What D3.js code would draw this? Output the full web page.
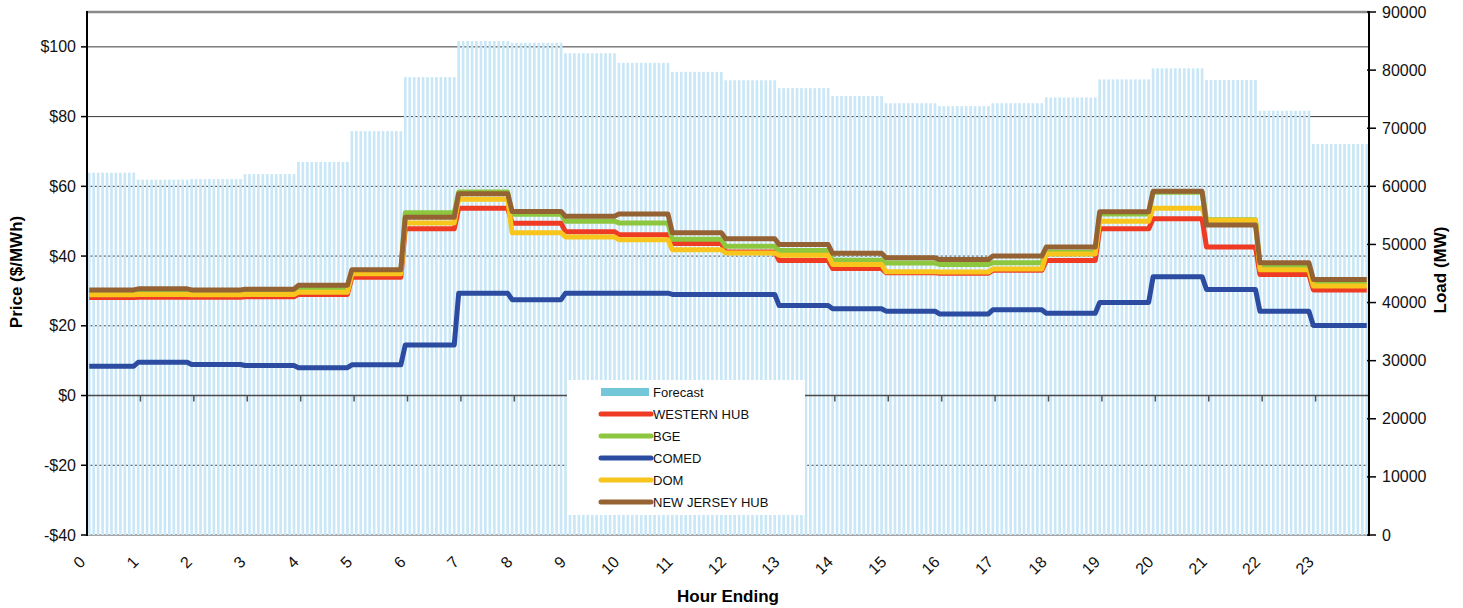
<!DOCTYPE html>
<html><head><meta charset="utf-8">
<script src="https://cdn.jsdelivr.net/npm/d3@7"></script>
<style>
body{margin:0;background:#fff;}
text{font-family:"Liberation Sans",Arial,Helvetica,sans-serif;}
</style>
</head><body>
<svg id="chart" width="1463" height="608"></svg>
<script>
// ---- data (hourly) ----
const hourLabels = ["0","1","2","3","4","5","6","7","8","9","10","11","12","13","14","15","16","17","18","19","20","21","22","23"];
const loadForecast = [62350,61150,61250,62100,64200,69500,78800,85000,84700,82900,81250,79700,78250,76900,75550,74300,73800,74300,75300,78400,80300,78300,73000,67300];
const westernHub = [28.1,28.2,28.2,28.3,29.0,33.9,47.8,53.7,49.4,47.0,46.1,43.6,41.2,38.7,36.4,35.2,35.1,35.9,38.7,47.8,50.7,42.6,34.7,30.3];
const bge        = [29.4,29.5,29.4,29.5,30.8,35.5,52.4,58.4,52.0,50.0,49.5,44.8,42.8,41.6,38.8,38.0,37.6,38.1,41.1,52.1,58.3,50.4,37.3,32.3];
const comed      = [8.4,9.55,8.9,8.6,8.0,8.8,14.5,29.35,27.5,29.35,29.35,29.0,29.0,25.8,24.9,24.2,23.4,24.6,23.6,26.7,34.1,30.4,24.2,20.1];
const dom        = [28.9,29.0,28.9,29.0,29.6,34.9,49.5,56.3,46.7,45.5,44.7,41.8,40.9,40.2,37.6,35.5,35.4,36.3,40.6,50.0,53.7,50.3,36.1,31.4];
const newJersey  = [30.3,30.6,30.3,30.5,31.6,36.1,51.1,57.9,52.8,51.4,52.1,46.7,45.0,43.3,40.8,39.5,39.0,40.0,42.6,52.7,58.6,48.9,38.1,33.3];
const priceTicks = [-40,-20,0,20,40,60,80,100];
const loadTicks = [0,10000,20000,30000,40000,50000,60000,70000,80000,90000];
const seriesNames = ["WESTERN HUB","BGE","COMED","DOM","NEW JERSEY HUB"];
const seriesColors = ["#ef3b24","#8dc63f","#2b4ca0","#f8c51c","#956233"];
const seriesData = [westernHub,bge,comed,dom,newJersey];

// 5-minute category axis: 12 intervals per hour (interval-ending)
const slotsPerHour = 12;
const nSlots = 24*slotsPerHour;
const slots = d3.range(nSlots);
const hourOf = i => Math.min(23, Math.floor((i+1)/slotsPerHour));

const L=87, R=1369, T=12, B=535;
const svg = d3.select("#chart");
const x = d3.scaleBand().domain(slots).range([L,R]).paddingInner(0.4).paddingOuter(0.2);
const xc = i => x(i) + x.bandwidth()/2;
const yP = d3.scaleLinear().domain([-40,110]).range([B,T]);
const yL = d3.scaleLinear().domain([0,90000]).range([B,T]);

// gridlines (behind bars)
svg.append("g").selectAll("line").data(priceTicks.filter(v=>v!==0 && v!==-40)).join("line")
  .attr("x1",L).attr("x2",R).attr("y1",d=>yP(d)).attr("y2",d=>yP(d))
  .attr("stroke","#3a3a3a").attr("stroke-width",1);
svg.append("line").attr("x1",L).attr("x2",R).attr("y1",yP(-40)).attr("y2",yP(-40))
  .attr("stroke","#8a8a8a").attr("stroke-width",1.5);

// forecast bars
svg.append("g").selectAll("rect").data(slots).join("rect")
  .attr("x",i=>x(i)).attr("width",x.bandwidth())
  .attr("y",i=>yL(loadForecast[hourOf(i)]))
  .attr("height",i=>B-yL(loadForecast[hourOf(i)]))
  .attr("fill","#c9e7f6");

// top border
svg.append("line").attr("x1",L).attr("x2",R).attr("y1",T).attr("y2",T)
  .attr("stroke","#8a8a8a").attr("stroke-width",2.5);

// zero line with category ticks
svg.append("line").attr("x1",L).attr("x2",R).attr("y1",yP(0)).attr("y2",yP(0))
  .attr("stroke","#4a4a4a").attr("stroke-width",1.5);
const tickSlots = d3.range(1,24).map(h=>h*slotsPerHour);
svg.append("g").selectAll("line").data(tickSlots).join("line")
  .attr("x1",i=>x(i)-x.step()*x.paddingInner()/2).attr("x2",i=>x(i)-x.step()*x.paddingInner()/2)
  .attr("y1",yP(0)).attr("y2",yP(0)+6)
  .attr("stroke","#555").attr("stroke-width",1.5);

// series lines
const line = d3.line().x(d=>d[0]).y(d=>d[1]);
seriesData.forEach((arr,k)=>{
  const pts = slots.map(i=>[xc(i), yP(arr[hourOf(i)])]);
  svg.append("path").attr("d",line(pts)).attr("fill","none")
    .attr("stroke",seriesColors[k]).attr("stroke-width",5)
    .attr("stroke-linejoin","round").attr("stroke-linecap","butt");
});

// left axis
svg.append("line").attr("x1",L).attr("x2",L).attr("y1",T-1).attr("y2",B+1).attr("stroke","#000").attr("stroke-width",2);
const lg = svg.append("g");
lg.selectAll("line").data(priceTicks).join("line")
  .attr("x1",L-6).attr("x2",L).attr("y1",d=>yP(d)).attr("y2",d=>yP(d)).attr("stroke","#000").attr("stroke-width",1.5);
lg.selectAll("text").data(priceTicks).join("text")
  .attr("x",L-11).attr("y",d=>yP(d)).attr("dy","0.35em").attr("text-anchor","end")
  .attr("font-size",16).attr("fill","#111")
  .text(d=> d<0 ? "-$"+Math.abs(d) : "$"+d);

// right axis
svg.append("line").attr("x1",R).attr("x2",R).attr("y1",T-1).attr("y2",B+1).attr("stroke","#000").attr("stroke-width",2);
const rg = svg.append("g");
rg.selectAll("line").data(loadTicks).join("line")
  .attr("x1",R-2).attr("x2",R+7).attr("y1",d=>yL(d)).attr("y2",d=>yL(d)).attr("stroke","#000").attr("stroke-width",1.5);
rg.selectAll("text").data(loadTicks).join("text")
  .attr("x",R+13).attr("y",d=>yL(d)).attr("dy","0.35em").attr("text-anchor","start")
  .attr("font-size",16).attr("fill","#111").text(d=>d);

// x labels
const xl = svg.append("g");
xl.selectAll("text").data(hourLabels).join("text")
  .attr("transform",(d,h)=>`translate(${xc(h*slotsPerHour)-7},${B+24}) rotate(-45)`)
  .attr("text-anchor","end").attr("dy","0.35em")
  .attr("font-size",16).attr("fill","#111").text(d=>d);

// axis titles
svg.append("text").attr("transform",`translate(22,272) rotate(-90)`).attr("text-anchor","middle")
  .attr("font-size",17).attr("font-weight","bold").text("Price ($/MWh)");
svg.append("text").attr("transform",`translate(1446,270) rotate(-90)`).attr("text-anchor","middle")
  .attr("font-size",17).attr("font-weight","bold").text("Load (MW)");
svg.append("text").attr("x",728).attr("y",602).attr("text-anchor","middle")
  .attr("font-size",17).attr("font-weight","bold").text("Hour Ending");

// legend
const leg = svg.append("g");
leg.append("rect").attr("x",567).attr("y",380).attr("width",238).attr("height",135).attr("fill","#fff");
const legNames = ["Forecast"].concat(seriesNames);
legNames.forEach((n,k)=>{
  const yy = 392 + k*22;
  if(k===0){
    leg.append("rect").attr("x",601).attr("y",yy-4).attr("width",48).attr("height",8).attr("fill","#72c8d8");
  } else {
    leg.append("line").attr("x1",601).attr("x2",651).attr("y1",yy).attr("y2",yy)
      .attr("stroke",seriesColors[k-1]).attr("stroke-width",5).attr("stroke-linecap","round");
  }
  leg.append("text").attr("x",653).attr("y",yy).attr("dy","0.35em").attr("font-size",13).attr("fill","#111").text(n);
});
</script>
</body></html>
